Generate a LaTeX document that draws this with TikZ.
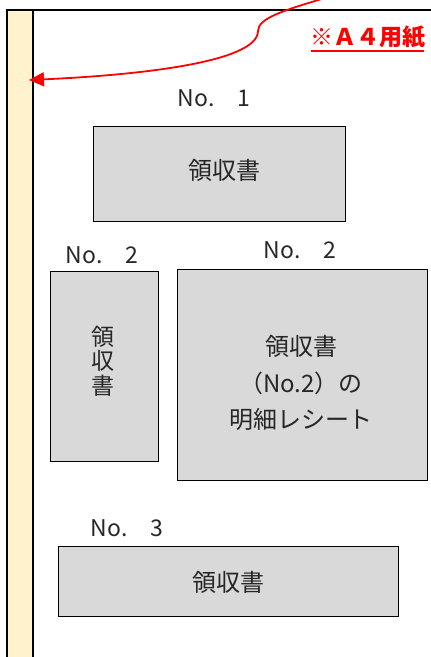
\documentclass[tikz,border=0pt]{standalone}
\usepackage{fontspec}
\setmainfont{Noto Sans CJK JP}
\usetikzlibrary{arrows.meta}
\definecolor{boxgray}{HTML}{D9D9D9}
\definecolor{strip}{HTML}{FFF2CC}
\definecolor{txt}{HTML}{262626}
\definecolor{redc}{HTML}{FF0000}
\begin{document}
\begin{tikzpicture}[x=1pt,y=-1pt,
  box/.style={draw=black, line width=1.1pt, fill=boxgray, inner sep=0pt, anchor=north west},
  lbl/.style={text=txt, font=\fontsize{23}{27}\selectfont, inner sep=0pt},
  body/.style={text=txt, font=\fontsize{24}{28}\selectfont, inner sep=0pt, align=center},
  page/.style={draw=black, line width=1.3pt}]
\useasboundingbox (0,0) rectangle (431,657);
% page edge and binding strip
\fill[strip] (7,10) rectangle (33,660);
\draw[page] (7,660) -- (7,10) -- (435,10);
\draw[page] (33,10) -- (33,660);
% boxes
\node[box, minimum width=252pt, minimum height=95pt] (b1) at (93,126) {};
\node[box, minimum width=108pt, minimum height=190pt] (b2a) at (50,271) {};
\node[box, minimum width=250pt, minimum height=211pt] (b2b) at (177,269) {};
\node[box, minimum width=340pt, minimum height=70pt] (b3) at (58,546) {};
% labels
\node[lbl] (l1) at (214,98) {No.　1};
\node[lbl] (l2a) at (102,255) {No.　2};
\node[lbl] (l2b) at (300,250) {No.　2};
\node[lbl] (l3) at (127,528) {No.　3};
% texts
\node[body] (t1) at (224,170) {領収書};
\node[body, font=\fontsize{23}{24.5}\selectfont] (t2a) at (103,361) {領\\収\\書};
\node[body, font=\fontsize{24}{36.5}\selectfont] (t2b) at (301,383) {領収書\\（No.2）の\\明細レシート};
\node[body] (t3) at (228,582) {領収書};
% A4 note
\node[text=redc, font=\fontsize{23}{27}\selectfont\bfseries, inner sep=0pt] (a4) at (367.5,37) {※Ａ４用紙};
\coordinate (u1) at (311,51);
\coordinate (u2) at (424,51);
\draw[redc, line width=2pt] (u1) -- (u2);
% arrow
\coordinate (s) at (325,-2);
\coordinate (m) at (258,31);
\coordinate (tip) at (29,80);
\draw[redc, line width=1.8pt, -{Triangle[length=15pt,width=14pt]}]
  (s) .. controls (285,10) and (258,18) .. (m)
      .. controls (258,62) and (140,75) .. (tip);
\end{tikzpicture}
\end{document}
